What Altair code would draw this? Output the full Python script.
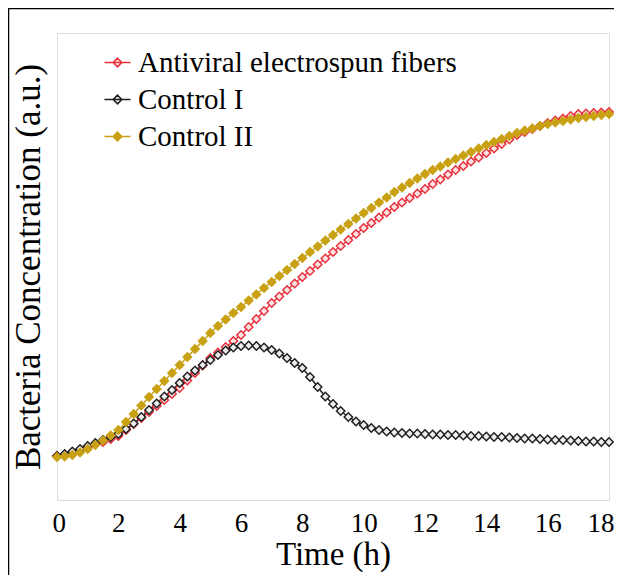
import altair as alt
import pandas as pd

time_h = [i * 0.25 for i in range(73)]

antiviral = [44, 45.5, 47.5, 50, 53, 55.5, 58, 61, 64, 70, 76, 82, 88, 94, 100, 106,
             112, 119.5, 127, 134.5, 142, 147.5, 153, 159, 165, 173, 181, 189, 197, 203.5,
             210, 216.5, 223, 229, 235.5, 241.5, 248, 254, 260, 266, 272, 277, 282.5, 287.5,
             293, 297.5, 302, 306.5, 311, 316, 320.5, 325.5, 330, 334, 338.5, 342.5, 347,
             351.5, 356, 360.5, 365, 368, 371, 374, 377, 379.5, 381.5, 384, 386, 386.5, 387,
             387.5, 388]

control1 = [44, 46, 48.5, 51, 54, 57, 60, 63, 66, 71, 76.5, 83, 90, 96.5, 103.5, 110,
            117, 123.5, 129.5, 135, 140, 145, 149.5, 152.5, 154, 154.5, 154, 152.5, 150,
            146.5, 142, 137, 132, 123, 113, 103.5, 96, 89, 83, 78.5, 75, 72, 70, 68.5, 67.5,
            67, 66.5, 66.5, 66, 65.5, 65.5, 65, 65, 64.5, 64, 64, 63.5, 63, 63, 62.5, 62,
            61.5, 61.5, 61, 60.5, 60, 60, 59.5, 59, 58.5, 58.5, 58, 58]

control2 = [43, 43.5, 45, 47.5, 51, 55, 59.5, 64.5, 70, 78, 86, 94.5, 103, 111, 119, 127,
            135, 143, 151, 159, 167, 174, 180.5, 187, 193, 199.5, 205.5, 212, 218, 224, 230,
            236, 242, 248, 253.5, 259.5, 265, 270.5, 276, 281.5, 287, 292, 297.5, 302.5, 308,
            312.5, 317, 321.5, 326, 330, 333.5, 337.5, 341, 344.5, 348, 351.5, 355, 358, 361,
            364, 367, 369.5, 371.5, 374, 376, 377.5, 379, 380.5, 382, 383, 384, 385, 386]

series_names = ["Antiviral electrospun fibers", "Control I", "Control II"]
stroke_colors = ["#E8313C", "#1F1F1F", "#C9A114"]
fill_colors = ["#FBE3E3", "#EDEDED", "#C9A114"]
x_ticks = list(range(0, 19, 2))

rows = []
for name, vals in zip(series_names, [antiviral, control1, control2]):
    for t, v in zip(time_h, vals):
        rows.append({"t": t, "v": v, "series": name})
df = pd.DataFrame(rows)

FONT = "Liberation Serif"

x_enc = alt.X("t:Q", scale=alt.Scale(domain=[0, 18], nice=False),
              axis=alt.Axis(values=x_ticks, title="Time (h)", ticks=False, domain=False,
                            grid=False, labelFontSize=27, labelPadding=10, labelFont=FONT,
                            titleFont=FONT, titleFontSize=33, titlePadding=2,
                            labelFlush=True, labelFlushOffset=5))
y_enc = alt.Y("v:Q", scale=alt.Scale(domain=[0, 467], nice=False),
              axis=alt.Axis(labels=False, ticks=False, domain=False, grid=False,
                            titleFont=FONT,
                            title="Bacteria Concentration (a.u.)", titleFontSize=35,
                            titlePadding=11))

legend = alt.Legend(
    title=None, orient="none", legendX=46, legendY=15,
    symbolType="M-1,0L1,0M0,-0.33L0.33,0L0,0.33L-0.33,0Z",
    symbolSize=676, symbolStrokeWidth=1.6, symbolFillColor="#F5F5F5",
    labelFontSize=29, labelFont=FONT, labelColor="black", labelLimit=500,
    rowPadding=7, labelOffset=6,
)

lines = alt.Chart(df).mark_line(strokeWidth=1.5).encode(
    x=x_enc, y=y_enc,
    color=alt.Color("series:N", scale=alt.Scale(domain=series_names, range=stroke_colors),
                    legend=legend),
)

points = alt.Chart(df).mark_point(shape="diamond", size=70, filled=True, strokeWidth=1.5,
                                  opacity=1).encode(
    x="t:Q", y="v:Q",
    stroke=alt.Stroke("series:N", scale=alt.Scale(domain=series_names, range=stroke_colors),
                      legend=None),
    fill=alt.Fill("series:N", scale=alt.Scale(domain=series_names, range=fill_colors),
                  legend=None),
)

frame = alt.Chart(pd.DataFrame({"a": [0]})).mark_rect(
    fillOpacity=0, stroke="black", strokeWidth=1.5, clip=False).encode(
    x=alt.value(-48.5), x2=alt.value(700), y=alt.value(-24.5), y2=alt.value(700))

chart = alt.layer(lines, points, frame).properties(
    width=552, height=467,
    autosize=alt.AutoSizeParams(type="none"),
    padding={"left": 49, "top": 25, "right": 5, "bottom": 75},
).configure_view(stroke="#D2D2D2", strokeWidth=2).configure(
    font=FONT, background="white"
).configure_axis(labelFont=FONT, titleFont=FONT, labelColor="black", titleColor="black",
                 titleFontWeight="normal").configure_legend(labelFont=FONT)

chart.save("out.html", embed_options={"renderer": "svg", "actions": False})
